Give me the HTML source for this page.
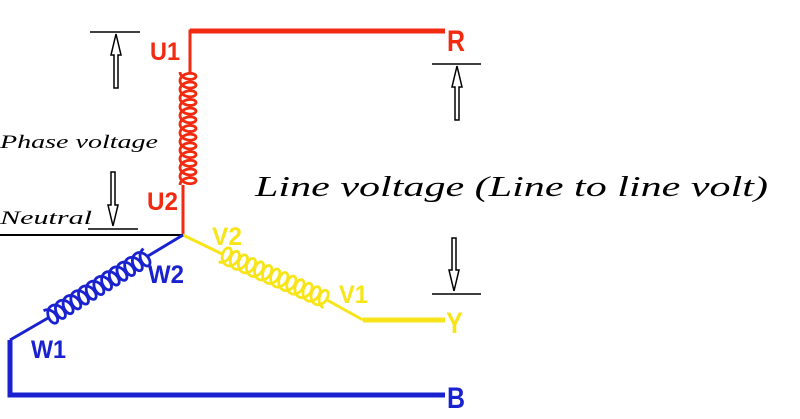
<!DOCTYPE html>
<html><head><meta charset="utf-8"><style>
html,body{margin:0;padding:0;background:#fff;width:800px;height:419px;overflow:hidden}
svg{display:block}
.lbl{font-family:"Liberation Sans Narrow","Liberation Sans",sans-serif;font-weight:bold;font-size:25px}
.hw{font-family:"Liberation Serif",serif;font-style:italic}
</style></head><body>
<svg id="s" width="800" height="419" viewBox="0 0 800 419" xmlns="http://www.w3.org/2000/svg">
<polyline points="445,31 190,31 190,72" fill="none" stroke="#f22a10" stroke-width="3"/>
<line x1="190" y1="31" x2="445" y2="31" stroke="#f22a10" stroke-width="5"/>
<polyline points="183,185 183,235" fill="none" stroke="#f22a10" stroke-width="3"/>
<line x1="0" y1="235" x2="183" y2="235" stroke="#000" stroke-width="2"/>
<polyline points="183,235 222,254" fill="none" stroke="#f7e51a" stroke-width="3"/>
<polyline points="327,300 363,320" fill="none" stroke="#f7e51a" stroke-width="3"/>
<line x1="363" y1="320" x2="445" y2="320" stroke="#f7e51a" stroke-width="5"/>
<polyline points="183,235 148,256" fill="none" stroke="#1a22d0" stroke-width="3"/>
<polyline points="48,318 10,340" fill="none" stroke="#1a22d0" stroke-width="3"/>
<polyline points="10,340 10,395 445,395" fill="none" stroke="#1a22d0" stroke-width="5"/>
<g id="coils"></g>
<g stroke="#000" stroke-width="1.5" fill="#fff">
<line x1="90" y1="32" x2="140" y2="32"/>
<path d="M116,34 L111,55 L114,55 L114,88 L118,88 L118,55 L121,55 Z"/>
<line x1="88" y1="229" x2="138" y2="229"/>
<path d="M113,226 L108,205 L111,205 L111,172 L115,172 L115,205 L118,205 Z"/>
<line x1="432" y1="64" x2="481" y2="64"/>
<path d="M457,66 L452,87 L455,87 L455,120 L459,120 L459,87 L462,87 Z"/>
<line x1="432" y1="294" x2="481" y2="294"/>
<path d="M454,291 L449,270 L452,270 L452,238 L456,238 L456,270 L459,270 Z"/>
</g>
<text class="lbl" x="150" y="60" fill="#f22a10" textLength="30" lengthAdjust="spacingAndGlyphs">U1</text>
<text class="lbl" x="147" y="210" fill="#f22a10" textLength="31" lengthAdjust="spacingAndGlyphs">U2</text>
<text class="lbl" x="447" y="51" fill="#f22a10" style="font-size:30px" textLength="18" lengthAdjust="spacingAndGlyphs">R</text>
<text class="lbl" x="212" y="245" fill="#f7e51a" textLength="30" lengthAdjust="spacingAndGlyphs">V2</text>
<text class="lbl" x="339" y="303" fill="#f7e51a" textLength="29" lengthAdjust="spacingAndGlyphs">V1</text>
<text class="lbl" x="446" y="333" fill="#f7e51a" style="font-size:30px" textLength="17" lengthAdjust="spacingAndGlyphs">Y</text>
<text class="lbl" x="148" y="283" fill="#1a22d0" textLength="36" lengthAdjust="spacingAndGlyphs">W2</text>
<text class="lbl" x="31" y="358" fill="#1a22d0" textLength="35" lengthAdjust="spacingAndGlyphs">W1</text>
<text class="lbl" x="447" y="408" fill="#1a22d0" style="font-size:30px" textLength="18" lengthAdjust="spacingAndGlyphs">B</text>
<text class="hw" x="0" y="148" font-size="19" textLength="158" lengthAdjust="spacingAndGlyphs">Phase voltage</text>
<text class="hw" x="0" y="224" font-size="19" textLength="92" lengthAdjust="spacingAndGlyphs">Neutral</text>
<text class="hw" x="255" y="196" font-size="29" textLength="513" lengthAdjust="spacingAndGlyphs">Line voltage  (Line to line volt)</text>
</svg>
<script>
function coil(x1,y1,x2,y2,n,a,b,col){
 var dx=x2-x1,dy=y2-y1,L=Math.hypot(dx,dy),ux=dx/L,uy=dy/L,vx=-uy,vy=ux;
 var p=L/n,d="";
 for(var i=0;i<=n*40;i++){
  var th=i/40*2*Math.PI;
  var u=p*th/(2*Math.PI)+a*Math.sin(th);
  var v=-b*(1-Math.cos(th))/2 + b/2;
  var x=x1+ux*u+vx*v,y=y1+uy*u+vy*v;
  d+=(i?"L":"M")+x.toFixed(2)+","+y.toFixed(2);
 }
 var e=document.createElementNS("http://www.w3.org/2000/svg","path");
 e.setAttribute("d",d);e.setAttribute("fill","none");e.setAttribute("stroke",col);e.setAttribute("stroke-width","2.8");
 document.getElementById("coils").appendChild(e);
}
coil(188,72,188,185,13,5,16,"#f22a10");
coil(222,254,327,300,13,6,17,"#f7e51a");
coil(148,256,48,318,13,6,17,"#1a22d0");
</script>
</body></html>
